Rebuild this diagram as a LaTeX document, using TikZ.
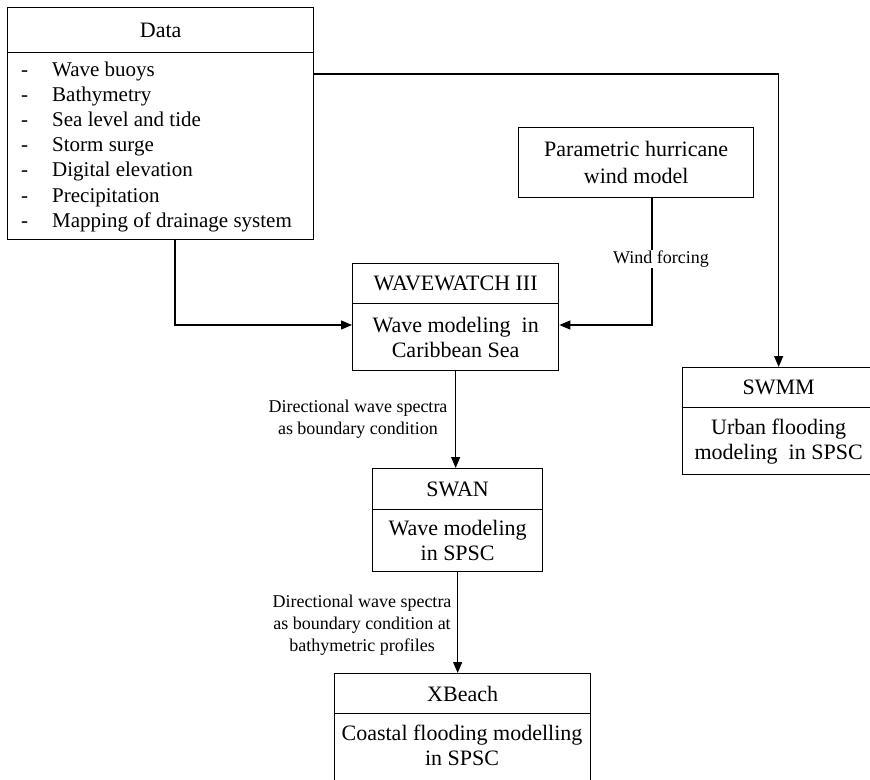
\documentclass[tikz,border=0pt]{standalone}
\usepackage{fontspec}
\setmainfont{Liberation Serif}
\usetikzlibrary{arrows.meta}
\begin{document}
\begin{tikzpicture}[x=1pt,y=-1pt,
  box/.style={draw, line width=1.3pt, inner sep=0pt, anchor=north west, align=center,
    font=\fontsize{22}{25}\selectfont},
  boxtext/.style={inner sep=0pt, align=center, font=\fontsize{22}{25}\selectfont},
  lab/.style={font=\fontsize{18}{22}\selectfont, align=center, inner sep=1pt},
  item/.style={font=\fontsize{21}{25}\selectfont, anchor=base west, inner sep=0pt},
  arr/.style={line width=1.3pt, -{Triangle[length=11pt,width=9pt]}}]
\useasboundingbox (0,0) rectangle (870,779);
\fill[white] (0,0) rectangle (870,779);
\clip (0,0) rectangle (870,779);
% Data
\node[box, minimum width=306pt, minimum height=45pt] (dataT) at (7,7) {Data};
\node[box, minimum width=306pt, minimum height=187pt] (dataB) at (7,52) {};
\foreach \t [count=\i] in {Wave buoys, Bathymetry, Sea level and tide, Storm surge,
  Digital elevation, Precipitation, Mapping of drainage system}
  \node[item] (d\i) at (21,{76+25.2*(\i-1)}) {\makebox[31pt][l]{-}\t};
% Parametric
\node[box, minimum width=235pt, minimum height=70pt, font=\fontsize{22}{27}\selectfont]
  (param) at (518,127) {Parametric hurricane\\wind model};
% WAVEWATCH
\node[box, minimum width=206pt, minimum height=40pt] (wwT) at (352,263) {WAVEWATCH III};
\node[box, minimum width=206pt, minimum height=67pt] (wwB) at (352,303)
  {Wave modeling\ \ in\\Caribbean Sea};
% SWMM
\node[box, minimum width=192pt, minimum height=40pt] (smT) at (682,367) {SWMM};
\node[box, minimum width=192pt, minimum height=67pt] (smB) at (682,407)
  {Urban flooding\\modeling\ \ in SPSC};
% SWAN
\node[box, minimum width=170pt, minimum height=41pt] (swT) at (372,468) {SWAN};
\node[box, minimum width=170pt, minimum height=62pt] (swB) at (372,509)
  {Wave modeling\\in SPSC};
% XBeach
\node[box, minimum width=256pt, minimum height=40pt] (xbT) at (334,673) {XBeach};
\node[box, minimum width=256pt, minimum height=90pt] (xbB) at (334,713) {};
\node[boxtext] (xbtext) at (462,745) {Coastal flooding modelling\\in SPSC};
% connectors
\draw[arr] (dataB.east |- 0,74) -| (smT.north);
\draw[arr] (dataB.south -| 175,0) |- (wwB.west |- 0,325);
\draw[arr] (param.south -| 652,0) |- (wwB.east |- 0,325);
\node[lab, fill=white] (wf) at (661,259) {Wind forcing};
\draw[arr] (wwB.south) -- (wwB.south |- swT.north);
\node[lab] (l1) at (358,419) {Directional wave spectra\\as boundary condition};
\draw[arr] (swB.south) -- (swB.south |- xbT.north);
\node[lab] (l2) at (362,625) {Directional wave spectra\\as boundary condition at\\bathymetric profiles};
\end{tikzpicture}
\end{document}
